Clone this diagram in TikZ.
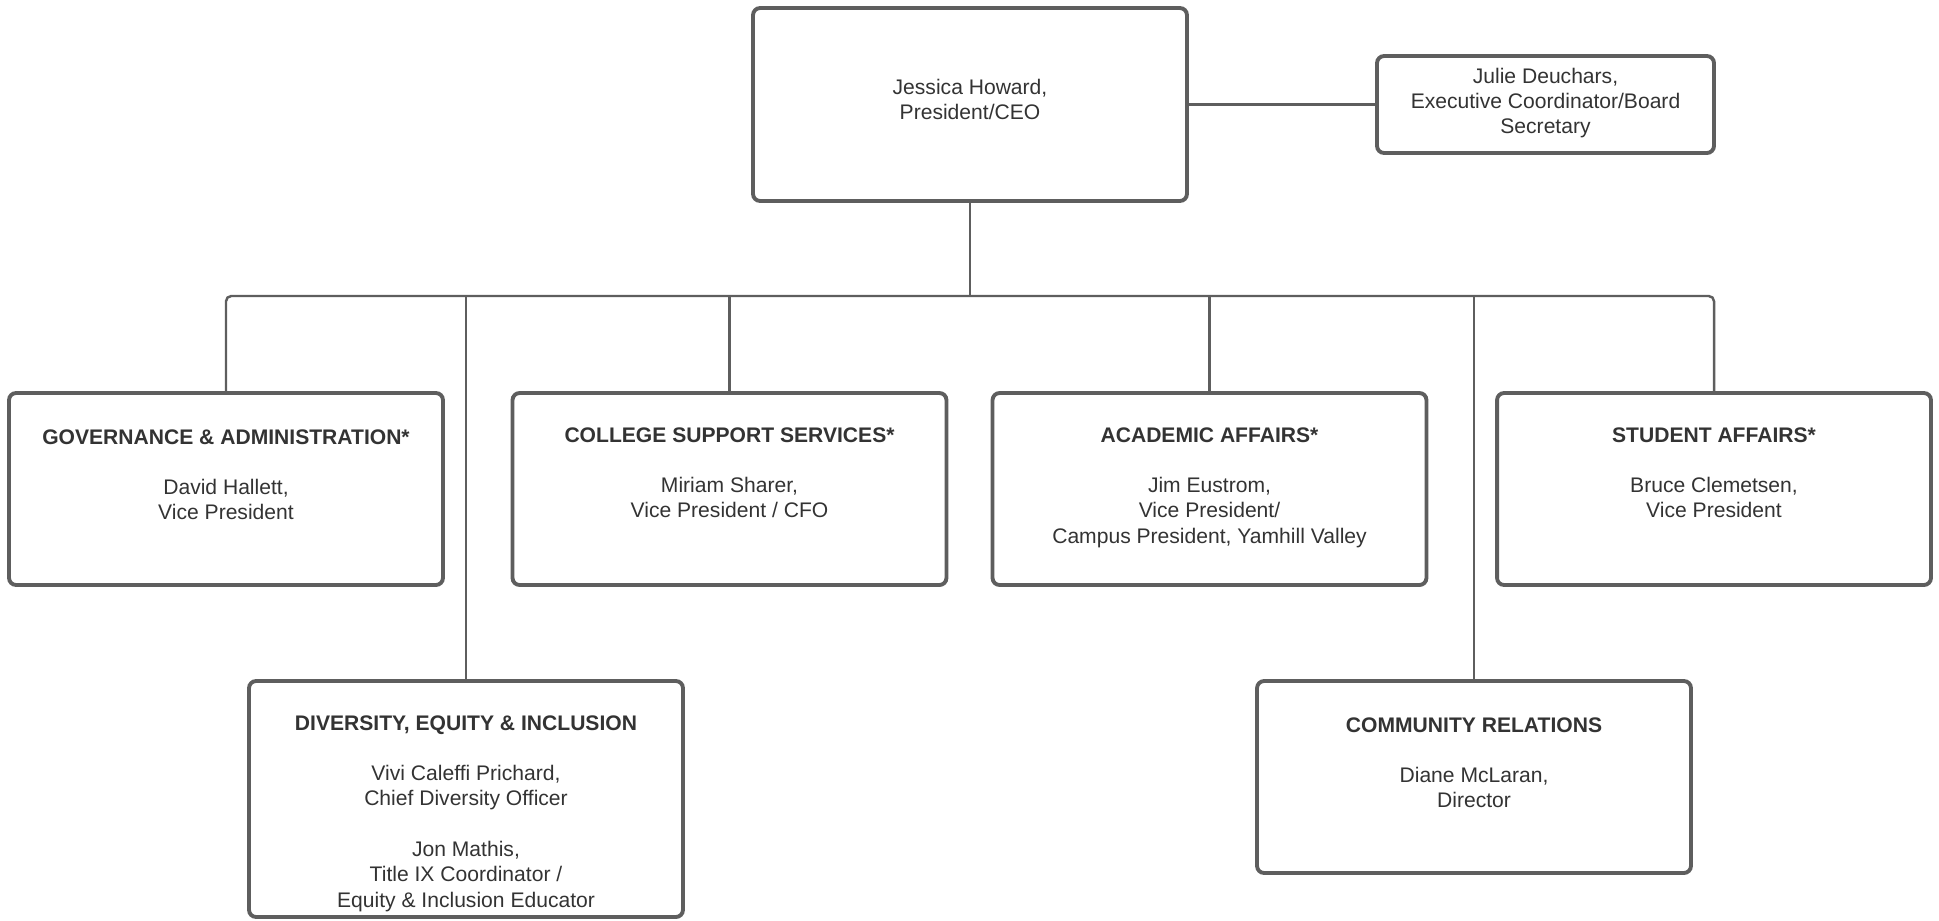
\documentclass[tikz,border=0pt]{standalone}
\usepackage{fontspec}
\setmainfont{Liberation Sans}
\usetikzlibrary{positioning,calc}
\definecolor{linegray}{HTML}{5E5E5E}
\definecolor{textgray}{HTML}{333333}
\tikzset{
  box/.style={draw=linegray, line width=2.2pt, rounded corners=4pt, inner sep=0pt, outer sep=0pt,
    minimum width=8.68cm, minimum height=3.84cm},
  link/.style={draw=linegray, line width=1.4pt},
  txt/.style={align=center, text=textgray, font=\fontsize{12}{14.4}\selectfont, inner sep=0pt}
}

\begin{document}
\begin{tikzpicture}[x=0.02cm, y=-0.02cm]
\useasboundingbox (0,0) rectangle (1939,920);
% top row
\node[box, minimum height=3.86cm] (ceo) at (970,104.5) {};
\node[txt] (ceotxt) at (970,99.5) {Jessica Howard,\\President/CEO};
\node[box, minimum width=6.74cm, minimum height=1.94cm] (sec) at (1545.5,104.5) {};
\node[txt] (sectxt) at (1545.5,103) {Julie Deuchars,\\Executive Coordinator/Board\\Secretary};
% vice presidents
\node[box] (gov) at (226,489) {};
\node[txt, anchor=north] (govtxt) at (226,429) {\textbf{GOVERNANCE \& ADMINISTRATION*}\\[14.4pt]David Hallett,\\Vice President};
\node[box] (css) at (729.5,489) {};
\node[txt, anchor=north] (csstxt) at (729.5,427) {\textbf{COLLEGE SUPPORT SERVICES*}\\[14.4pt]Miriam Sharer,\\Vice President / CFO};
\node[box] (acad) at (1209.5,489) {};
\node[txt, anchor=north] (acadtxt) at (1209.5,427) {\textbf{ACADEMIC AFFAIRS*}\\[14.4pt]Jim Eustrom,\\Vice President/\\Campus President, Yamhill Valley};
\node[box] (stud) at (1714,489) {};
\node[txt, anchor=north] (studtxt) at (1714,427) {\textbf{STUDENT AFFAIRS*}\\[14.4pt]Bruce Clemetsen,\\Vice President};
% bottom row
\node[box, minimum height=4.72cm] (dei) at (466,799) {};
\node[txt, anchor=north] (deitxt) at (466,715) {\textbf{DIVERSITY, EQUITY \& INCLUSION}\\[14.4pt]Vivi Caleffi Prichard,\\Chief Diversity Officer\\[14.4pt]Jon Mathis,\\Title IX Coordinator /\\Equity \& Inclusion Educator};
\node[box] (comm) at (1474,777) {};
\node[txt, anchor=north] (commtxt) at (1474,717) {\textbf{COMMUNITY RELATIONS}\\[14.4pt]Diane McLaran,\\Director};
% connectors
\coordinate (bus) at (970,296);
\draw[link] (ceo.east) -- (sec.west);
\draw[link] (ceo.south) -- (bus);
\draw[link, rounded corners=3pt] (gov.north) |- (bus) -| (stud.north);
\draw[link] (css.north) -- (css.north |- bus);
\draw[link] (acad.north) -- (acad.north |- bus);
\draw[link] (dei.north) -- (dei.north |- bus);
\draw[link] (comm.north) -- (comm.north |- bus);
\end{tikzpicture}
\end{document}
